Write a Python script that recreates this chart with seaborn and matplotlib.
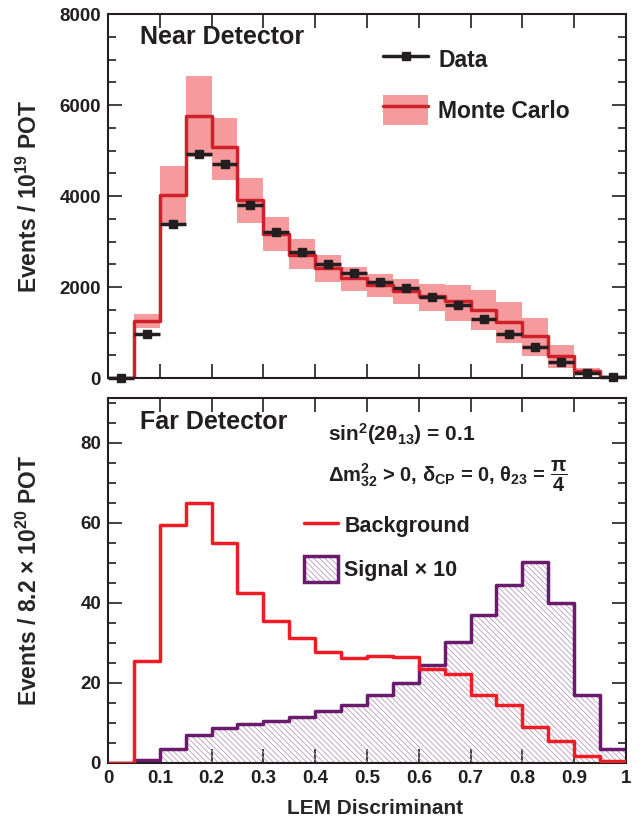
import numpy as np
import matplotlib
matplotlib.use("Agg")
import matplotlib.pyplot as plt
import seaborn as sns
from matplotlib.lines import Line2D
from matplotlib.patches import Patch
from matplotlib.legend_handler import HandlerTuple
from matplotlib.ticker import MultipleLocator

# LEM discriminant binning (20 bins)
lem_edges = [0.0, 0.05, 0.1, 0.15, 0.2, 0.25, 0.3, 0.35, 0.4, 0.45, 0.5,
             0.55, 0.6, 0.65, 0.7, 0.75, 0.8, 0.85, 0.9, 0.95, 1.0]
xtick_labels = ["0", "0.1", "0.2", "0.3", "0.4", "0.5", "0.6", "0.7", "0.8", "0.9", "1"]

# Near detector (events / 1e19 POT)
nd_data = [10, 970, 3380, 4930, 4710, 3810, 3200, 2780, 2500, 2300,
           2120, 1970, 1790, 1600, 1290, 970, 680, 350, 110, 20]
nd_mc = [0, 1260, 4020, 5750, 5080, 3920, 3160, 2700, 2410, 2190,
         2050, 1910, 1800, 1700, 1500, 1240, 930, 490, 150, 30]
nd_mc_lo = [0, 1100, 3380, 4860, 4350, 3410, 2800, 2400, 2120, 1920,
            1790, 1630, 1480, 1260, 1060, 780, 490, 230, 70, 10]
nd_mc_hi = [0, 1400, 4670, 6630, 5720, 4400, 3540, 3050, 2700, 2430,
            2290, 2180, 2070, 2040, 1940, 1670, 1310, 720, 220, 50]

# Far detector (events / 8.2e20 POT)
fd_bkg = [0, 25.6, 59.4, 64.9, 55.1, 42.6, 35.6, 31.2, 27.8, 26.2,
          26.8, 26.4, 23.5, 22.3, 17.1, 14.6, 9.1, 5.5, 1.7, 0.5]
fd_sig = [0, 0.7, 3.5, 6.9, 8.8, 9.8, 10.4, 11.5, 12.9, 14.5,
          16.9, 20.0, 24.4, 30.2, 37.0, 44.6, 50.3, 40.0, 16.9, 3.4]

edges = np.array(lem_edges)
centers = (edges[:-1] + edges[1:]) / 2
widths = np.diff(edges)

sns.set_style("ticks")
plt.rcParams["font.family"] = ["Liberation Sans", "DejaVu Sans"]
plt.rcParams["font.weight"] = "bold"
plt.rcParams["axes.labelweight"] = "bold"
plt.rcParams["mathtext.fontset"] = "custom"
plt.rcParams["mathtext.rm"] = "Liberation Sans:bold"
plt.rcParams["mathtext.it"] = "Liberation Sans:bold"
plt.rcParams["mathtext.bf"] = "Liberation Sans:bold"
plt.rcParams["mathtext.sf"] = "Liberation Sans:bold"
plt.rcParams["mathtext.default"] = "rm"
plt.rcParams["hatch.linewidth"] = 0.6
plt.rcParams["text.color"] = "#231f20"

ink = "#231f20"
pink = "#f59a9d"
mc_red = "#d0202a"
bkg_red = "#ee1c25"
purple = "#6a1b6e"
hatch_col = "#b99bbf"
hatch_pat = "\\\\\\\\\\\\"

fig = plt.figure(figsize=(6.44, 8.25), dpi=100)
ax1 = fig.add_axes([0.1677, 0.5418, 0.8043, 0.4412])
ax2 = fig.add_axes([0.1677, 0.0752, 0.8043, 0.4424])

# ---- Near detector ----
lo = np.array(nd_mc_lo)
hi = np.array(nd_mc_hi)
ax1.bar(centers, hi - lo, bottom=lo, width=widths, color=pink, linewidth=0, zorder=1)
sns.histplot(x=centers, weights=nd_mc, bins=lem_edges, element="step", fill=False,
             color=mc_red, linewidth=2.5, ax=ax1, zorder=2)
ax1.errorbar(centers, nd_data, xerr=widths / 2, fmt="s", color=ink, ms=5.5,
             elinewidth=2.5, capsize=0, zorder=5, clip_on=False)

ax1.set_xlim(0, 1)
ax1.set_ylim(0, 8000)
ax1.yaxis.set_major_locator(MultipleLocator(2000))
ax1.yaxis.set_minor_locator(MultipleLocator(500))
ax1.set_xticks(edges[::2])
ax1.tick_params(labelbottom=False)
ax1.set_xlabel("")
ax1.set_ylabel("Events / 10$^{19}$ POT", fontsize=16.5)
ax1.yaxis.set_label_coords(-0.128, 0.5)
ax1.text(0.062, 0.937, "Near Detector", transform=ax1.transAxes, fontsize=18,
         va="center", ha="left")

h_data = Line2D([], [], color=ink, marker="s", ms=5.5, lw=2.5)
h_mc = (Patch(facecolor=pink, linewidth=0), Line2D([], [], color=mc_red, lw=2.5))
ax1.legend([h_data, h_mc], ["Data", "Monte Carlo"],
           handler_map={tuple: HandlerTuple(ndivide=1, pad=0)},
           loc="upper left", bbox_to_anchor=(0.531, 0.916), frameon=False,
           fontsize=16.5, handlelength=1.97, handleheight=1.66,
           handletextpad=0.44, labelspacing=0.88, borderpad=0, borderaxespad=0)

# ---- Far detector ----
sns.histplot(x=centers, weights=fd_sig, bins=lem_edges, element="step", fill=True,
             color=hatch_col, facecolor="none", edgecolor=hatch_col,
             hatch=hatch_pat, linewidth=0, ax=ax2, zorder=1)
sns.histplot(x=centers, weights=fd_sig, bins=lem_edges, element="step", fill=False,
             color=purple, linewidth=2.5, ax=ax2, zorder=2)
sns.histplot(x=centers, weights=fd_bkg, bins=lem_edges, element="step", fill=False,
             color=bkg_red, linewidth=2.5, ax=ax2, zorder=3)

ax2.set_xlim(0, 1)
ax2.set_ylim(0, 91.25)
ax2.yaxis.set_major_locator(MultipleLocator(20))
ax2.yaxis.set_minor_locator(MultipleLocator(5))
ax2.set_xticks(edges[::2])
ax2.set_xticklabels(xtick_labels)
ax2.set_xlabel("LEM Discriminant", fontsize=15)
ax2.xaxis.set_label_coords(0.516, -0.0986)
ax2.xaxis.label.set_va("top")
ax2.set_ylabel("Events / 8.2 \u00d7 10$^{20}$ POT", fontsize=16.5)
ax2.yaxis.set_label_coords(-0.128, 0.5)
ax2.text(0.062, 0.933, "Far Detector", transform=ax2.transAxes, fontsize=18,
         va="center", ha="left")
ax2.text(0.425, 0.90, r"sin$^2$(2$\theta_{13}$) = 0.1", transform=ax2.transAxes,
         fontsize=15, va="center", ha="left")
ax2.text(0.425, 0.785, r"$\Delta$m$^2_{32}$ > 0, $\delta_{CP}$ = 0, $\theta_{23}$ = $\dfrac{\pi}{4}$",
         transform=ax2.transAxes, fontsize=14.5, va="center", ha="left")

h_bkg = Line2D([], [], color=bkg_red, lw=2.5)
h_sig = (Patch(facecolor="white", edgecolor=hatch_col, hatch=hatch_pat, linewidth=0),
         Patch(facecolor="none", edgecolor=purple, linewidth=2.5))
ax2.legend([h_bkg, h_sig], ["Background", "Signal \u00d7 10"],
           handler_map={tuple: HandlerTuple(ndivide=1, pad=0)},
           loc="upper left", bbox_to_anchor=(0.378, 0.686), frameon=False,
           fontsize=15.5, handlelength=1.58, handleheight=1.44,
           handletextpad=0.3, labelspacing=0.84, borderpad=0, borderaxespad=0)

for ax in (ax1, ax2):
    ax.tick_params(which="both", direction="in", top=True, right=True,
                   width=1.2, color=ink, labelsize=13.5, labelcolor=ink)
    ax.tick_params(which="major", length=10, pad=5)
    ax.tick_params(which="minor", length=5.5)
    for s in ax.spines.values():
        s.set_linewidth(1.5)
        s.set_color(ink)

fig.savefig("out.png", dpi=100)
